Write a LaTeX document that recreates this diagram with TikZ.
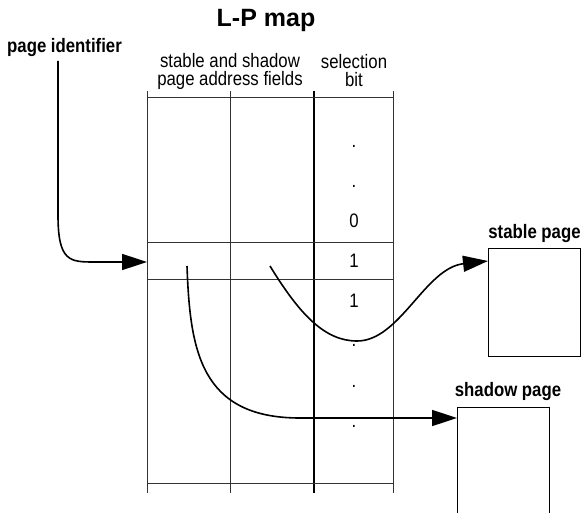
\documentclass[tikz,border=0pt]{standalone}
\usepackage{fontspec}
\setmainfont{Liberation Sans}
\newfontfamily\narrowfont{Liberation Sans}[FakeStretch=0.86]
\usetikzlibrary{arrows.meta}
\begin{document}
\begin{tikzpicture}[x=1pt,y=-1pt,
  grid/.style={line width=1pt, draw=black!80},
  midline/.style={line width=1.5pt},
  conn/.style={line width=1.6pt, -{Triangle[length=25pt,width=16pt]}},
  lbl/.style={font=\narrowfont\fontsize{19.5}{18}\selectfont, align=center, inner sep=0pt},
  blbl/.style={font=\narrowfont\fontsize{19.5}{19.5}\selectfont\bfseries, inner sep=0pt},
  bitv/.style={font=\narrowfont\fontsize{19.5}{19.5}\selectfont, inner sep=0pt}]
\useasboundingbox (0,0) rectangle (586,513);
% title and headers
\node[font=\fontsize{25}{25}\selectfont\bfseries, inner sep=0pt] (title) at (266,20) {L-P map};
\node[blbl, anchor=west] (pid) at (7,48) {page identifier};
\node[lbl] (hdr1) at (230,71) {stable and shadow\\page address fields};
\node[lbl] (hdr2) at (354,71) {selection\\bit};
% table
\draw[grid] (147,91) -- (147,493);
\draw[grid] (230,91) -- (230,493);
\draw[midline] (314,91) -- (314,493);
\draw[grid] (393,91) -- (393,493);
\draw[grid] (147,98) -- (393,98);
\draw[grid] (147,242) -- (393,242);
\draw[grid] (147,279) -- (393,279);
\draw[grid] (147,483) -- (393,483);
% selection bits
\node[bitv] (d1) at (354,146) {.};
\node[bitv] (d2) at (354,186) {.};
\node[bitv] (b0) at (354,221) {0};
\node[bitv] (b1) at (354,261) {1};
\node[bitv] (b2) at (354,301) {1};
\node[bitv] (d3) at (354,345) {.};
\node[bitv] (d4) at (354,386) {.};
\node[bitv] (d5) at (354,426) {.};
% pages
\node[draw, line width=1pt, minimum width=92pt, minimum height=108pt, anchor=north west, inner sep=0pt] (stable) at (488,248) {};
\node[blbl, anchor=south] (stablel) at (stable.north) [yshift=5pt] {stable page};
\draw[line width=1pt] (457,513) |- (549,407) -- (549,513);
\coordinate (shadowin) at (457,418);
\node[blbl] (shadowl) at (508,391) {shadow page};
% connectors
\coordinate (pidstart) at (58,61);
\coordinate (entry) at (147,262);
\draw[conn] (pidstart) -- (58,215) .. controls (58,262) and (70,262) .. (95,262) -- (entry);
\coordinate (s1) at (270,266);
\coordinate (stablein) at ([yshift=-13pt]stable.north west);
\draw[conn] (s1) .. controls (300,315) and (325,341) .. (357,341) .. controls (400,341) and (425,268) .. (stablein);
\coordinate (s2) at (187,266);
\draw[conn] (s2) .. controls (190,350) and (200,418) .. (300,418) -- (shadowin);
\end{tikzpicture}
\end{document}
